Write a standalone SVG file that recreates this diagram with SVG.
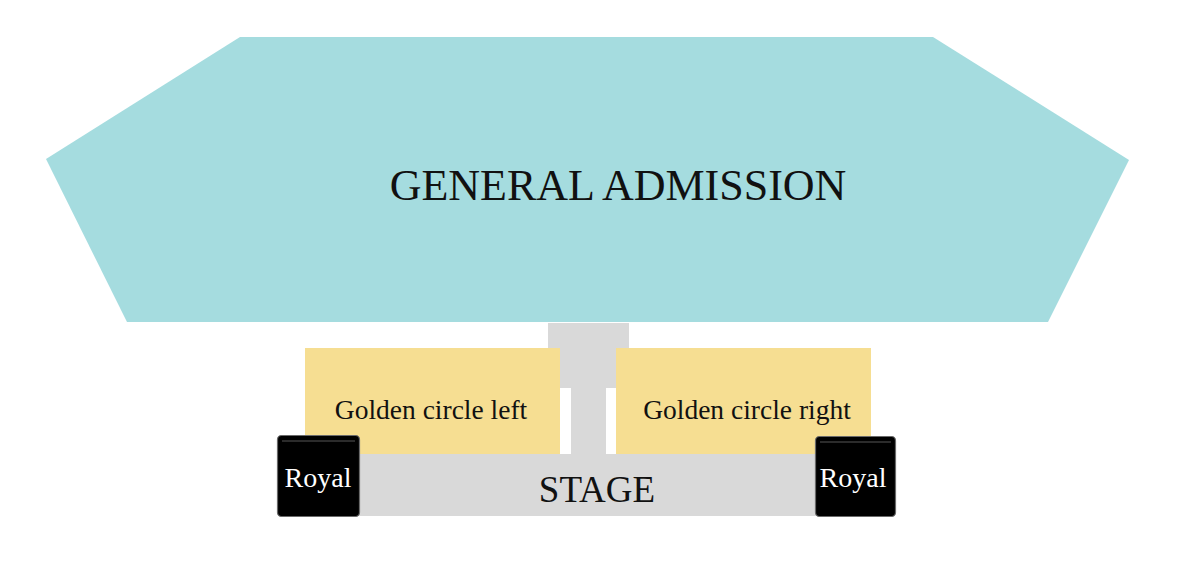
<svg xmlns="http://www.w3.org/2000/svg" width="1178" height="585" viewBox="0 0 1178 585">
<style>
.serif{font-family:"Liberation Serif","Times New Roman",serif;text-anchor:middle}
.gc{fill:#f6de92}
.st{fill:#d9d9d9}
.royal{fill:#000;stroke:#6a6a6a;stroke-width:1.2}
.hl{stroke:#3a3a3a;stroke-width:1.5}
</style>
<rect width="1178" height="585" fill="#fff"/>
<g id="general-admission">
<polygon points="240,37 933,37 1129,160 1048,322 127,322 46,159" fill="#a5dcdf"/>
<text class="serif" x="618" y="200" font-size="44" fill="#111">GENERAL ADMISSION</text>
</g>
<g id="stage">
<rect class="st" x="548" y="323" width="81" height="65"/>
<rect class="st" x="571" y="386" width="35" height="70"/>
<rect class="st" x="340" y="454" width="500" height="62"/>
<text class="serif" x="597" y="502" font-size="37" fill="#111">STAGE</text>
</g>
<g id="golden-circle-left">
<rect class="gc" x="305" y="348" width="255" height="106"/>
<text class="serif" x="431" y="419" font-size="27.5" fill="#111">Golden circle left</text>
</g>
<g id="golden-circle-right">
<rect class="gc" x="616" y="348" width="255" height="106"/>
<text class="serif" x="747" y="419" font-size="27.5" fill="#111">Golden circle right</text>
</g>
<g id="royal-left">
<rect class="royal" x="277.5" y="435.5" width="82" height="81" rx="4"/>
<line class="hl" x1="282" y1="441" x2="355" y2="441"/>
<text class="serif" x="318" y="487" font-size="28" fill="#fff">Royal</text>
</g>
<g id="royal-right">
<rect class="royal" x="815.5" y="436.5" width="80" height="80" rx="4"/>
<line class="hl" x1="820" y1="442" x2="891" y2="442"/>
<text class="serif" x="853" y="487" font-size="28" fill="#fff">Royal</text>
</g>
<g id="connectors"/>
</svg>
